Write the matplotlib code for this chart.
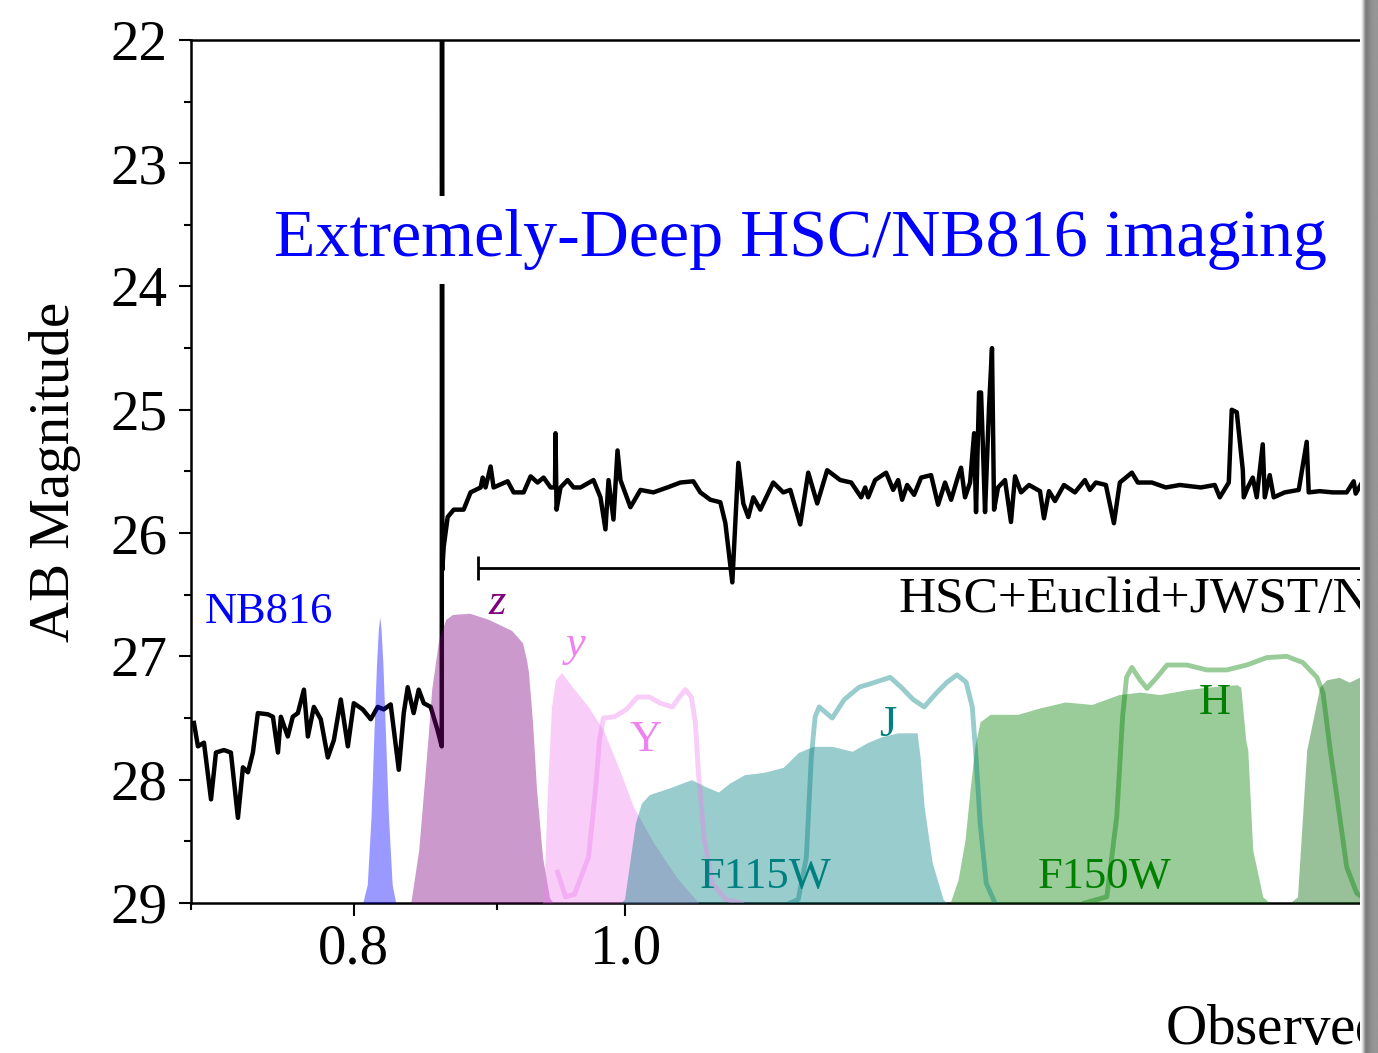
import numpy as np
import matplotlib.pyplot as plt
from matplotlib.ticker import FixedLocator, FormatStrFormatter, MultipleLocator

plt.rcParams['font.family'] = ['Liberation Serif', 'DejaVu Serif']
plt.rcParams['mathtext.fontset'] = 'stix'

# model spectrum (observed wavelength in micron, AB mag)
wave_blue = [0.7017, 0.7040, 0.7075, 0.7116, 0.7145, 0.7192, 0.7233, 0.7275, 0.7305, 0.7335,
             0.7365, 0.7395, 0.7456, 0.7487, 0.7518, 0.7536, 0.7579, 0.7610, 0.7642, 0.7680,
             0.7705, 0.7743, 0.7787, 0.7832, 0.7871, 0.7916, 0.7962, 0.8001, 0.8060, 0.8113,
             0.8160, 0.8200, 0.8247, 0.8302, 0.8336, 0.8363, 0.8404, 0.8439, 0.8474, 0.8522,
             0.8571, 0.8600]
mag_blue = [27.54, 27.73, 27.70, 28.16, 27.78, 27.76, 27.78, 28.31, 27.90, 27.94,
            27.78, 27.46, 27.47, 27.49, 27.78, 27.49, 27.65, 27.49, 27.46, 27.27,
            27.65, 27.41, 27.51, 27.82, 27.68, 27.35, 27.73, 27.38, 27.43, 27.51,
            27.41, 27.43, 27.39, 27.92, 27.46, 27.25, 27.46, 27.27, 27.38, 27.41,
            27.60, 27.73]
# Lya line
wave_lya = [0.8602, 0.8604]
mag_lya = [21.0, 26.3]
wave_red = [0.8614, 0.8642, 0.8685, 0.8756, 0.8806, 0.8879, 0.8894, 0.8915, 0.8952, 0.8974,
            0.9078, 0.9123, 0.9198, 0.9251, 0.9304, 0.9350, 0.9404, 0.9438, 0.9442, 0.9450,
            0.9481, 0.9536, 0.9583, 0.9638, 0.9741, 0.9797, 0.9837, 0.9862, 0.9902, 0.9935,
            0.9959, 1.0041, 1.0124, 1.0232, 1.0350, 1.0461, 1.0573, 1.0634, 1.0722, 1.0810,
            1.0855, 1.0917, 1.0971, 1.1016, 1.1061, 1.1107, 1.1171, 1.1290, 1.1383, 1.1449,
            1.1543, 1.1619, 1.1705, 1.1801, 1.1928, 1.2036, 1.2135, 1.2175, 1.2205, 1.2275,
            1.2386, 1.2458, 1.2509, 1.2550, 1.2602, 1.2674, 1.2747, 1.2852, 1.2926, 1.3000,
            1.3065, 1.3140, 1.3172, 1.3215, 1.3270, 1.3314, 1.3335, 1.3368, 1.3390, 1.3412,
            1.3434, 1.3478, 1.3511, 1.3534, 1.3578, 1.3656, 1.3723, 1.3769, 1.3837, 1.3928,
            1.4054, 1.4100, 1.4158, 1.4228, 1.4333, 1.4463, 1.4582, 1.4642, 1.4714, 1.4835,
            1.4933, 1.5006, 1.5155, 1.5229, 1.5406, 1.5583, 1.5764, 1.6037, 1.6222, 1.6289,
            1.6410, 1.6450, 1.6518, 1.6600, 1.6613, 1.6668, 1.6736, 1.6791, 1.6874, 1.6902,
            1.6971, 1.7027, 1.7181, 1.7380, 1.7494, 1.7523, 1.7682, 1.7871, 1.8078, 1.8182,
            1.8212, 1.8317, 1.8377, 1.8497, 1.9000, 2.0000]
mag_red = [26.11, 25.87, 25.81, 25.81, 25.67, 25.63, 25.55, 25.63, 25.46, 25.63,
           25.58, 25.67, 25.67, 25.54, 25.59, 25.55, 25.63, 25.63, 25.19, 25.81,
           25.63, 25.57, 25.63, 25.63, 25.57, 25.71, 25.97, 25.57, 25.89, 25.33,
           25.57, 25.79, 25.65, 25.67, 25.63, 25.59, 25.58, 25.67, 25.73, 25.75,
           25.92, 26.40, 25.43, 25.76, 25.87, 25.71, 25.81, 25.59, 25.67, 25.65,
           25.93, 25.51, 25.76, 25.49, 25.57, 25.59, 25.71, 25.63, 25.71, 25.57,
           25.51, 25.65, 25.57, 25.73, 25.61, 25.69, 25.55, 25.53, 25.77, 25.59,
           25.73, 25.54, 25.47, 25.71, 25.59, 25.19, 25.83, 24.86, 24.86, 25.33,
           25.83, 24.98, 24.50, 25.81, 25.63, 25.57, 25.91, 25.54, 25.67, 25.61,
           25.66, 25.88, 25.66, 25.74, 25.61, 25.67, 25.57, 25.65, 25.59, 25.61,
           25.92, 25.59, 25.51, 25.59, 25.59, 25.63, 25.61, 25.63, 25.61, 25.71,
           25.59, 25.00, 25.02, 25.49, 25.71, 25.63, 25.55, 25.71, 25.28, 25.71,
           25.53, 25.71, 25.67, 25.65, 25.26, 25.67, 25.66, 25.67, 25.67, 25.58,
           25.68, 25.58, 25.67, 25.53, 25.66, 25.65]

# filter transmission curves, scaled onto the magnitude axis
nb816_w = [0.8060, 0.8090, 0.8115, 0.8135, 0.8152, 0.8164, 0.8173, 0.8182, 0.8194, 0.8211,
           0.8232, 0.8257, 0.8281]
nb816_m = [29.0, 28.85, 28.30, 27.60, 27.05, 26.78, 26.68, 26.78, 27.05, 27.60,
           28.30, 28.85, 29.0]
hsc_z_w = [0.8384, 0.8439, 0.8474, 0.8508, 0.8529, 0.8578, 0.8628, 0.8677, 0.8799, 0.8937,
           0.9108, 0.9190, 0.9220, 0.9235, 0.9266, 0.9296, 0.9342, 0.9396, 0.9427]
hsc_z_m = [29.0, 28.57, 28.08, 27.60, 27.27, 26.87, 26.70, 26.66, 26.65, 26.70,
           26.79, 26.89, 27.03, 27.13, 27.54, 28.08, 28.63, 28.96, 29.0]
hsc_y_w = [0.9340, 0.9350, 0.9380, 0.9411, 0.9442, 0.9489, 0.9575, 0.9701, 0.9821, 0.9943,
           1.0066, 1.0232, 1.0427, 1.0591, 1.0620]
hsc_y_m = [29.0, 28.97, 28.08, 27.41, 27.19, 27.13, 27.25, 27.41, 27.60, 27.90,
           28.22, 28.51, 28.79, 28.97, 29.0]
euc_Y_w = [0.9458, 0.9520, 0.9590, 0.9638, 0.9701, 0.9757, 0.9789, 0.9821, 0.9910, 1.0008,
           1.0099, 1.0199, 1.0291, 1.0393, 1.0453, 1.0504, 1.0556, 1.0591, 1.0617, 1.0669,
           1.0739, 1.0855, 1.1000]
euc_Y_m = [28.75, 28.95, 28.93, 28.80, 28.63, 28.08, 27.68, 27.50, 27.49, 27.43,
           27.33, 27.33, 27.38, 27.41, 27.33, 27.27, 27.33, 27.54, 27.94, 28.49,
           28.84, 28.97, 29.0]
f115w_w = [0.9960, 0.9992, 1.0041, 1.0082, 1.0132, 1.0199, 1.0359, 1.0556, 1.0687, 1.0793,
           1.0890, 1.1025, 1.1207, 1.1383, 1.1524, 1.1666, 1.1850, 1.2046, 1.2195, 1.2346,
           1.2509, 1.2705, 1.2737, 1.2779, 1.2863, 1.2979, 1.3020]
f115w_m = [29.0, 28.97, 28.63, 28.35, 28.19, 28.12, 28.07, 28.00, 28.06, 28.10,
           28.03, 27.96, 27.94, 27.90, 27.78, 27.73, 27.73, 27.77, 27.70, 27.65,
           27.62, 27.62, 27.82, 28.22, 28.67, 28.97, 29.0]
euc_J_w = [1.1449, 1.1524, 1.1601, 1.1648, 1.1685, 1.1724, 1.1850, 1.1968, 1.2115, 1.2275,
           1.2427, 1.2540, 1.2664, 1.2779, 1.2905, 1.3021, 1.3129, 1.3227, 1.3294, 1.3335,
           1.3380, 1.3447, 1.3544]
euc_J_m = [29.0, 28.97, 28.63, 27.82, 27.49, 27.41, 27.50, 27.35, 27.25, 27.21,
           27.17, 27.25, 27.35, 27.41, 27.30, 27.21, 27.15, 27.21, 27.41, 27.82,
           28.35, 28.84, 29.0]
f150w_w = [1.3054, 1.3140, 1.3215, 1.3270, 1.3324, 1.3380, 1.3491, 1.3802, 1.4042, 1.4347,
           1.4666, 1.4994, 1.5256, 1.5506, 1.5854, 1.6116, 1.6518, 1.6572, 1.6640, 1.6668,
           1.6736, 1.6874, 1.6971]
f150w_m = [29.0, 28.81, 28.49, 28.08, 27.72, 27.53, 27.47, 27.47, 27.42, 27.37,
           27.39, 27.31, 27.29, 27.31, 27.27, 27.25, 27.23, 27.25, 27.68, 27.76,
           28.57, 28.95, 29.0]
euc_H_w = [1.4582, 1.4847, 1.4968, 1.5040, 1.5089, 1.5155, 1.5256, 1.5344, 1.5470, 1.5599,
           1.5854, 1.6116, 1.6384, 1.6654, 1.6930, 1.7210, 1.7438, 1.7642, 1.7731, 1.7835,
           1.7939, 1.8078, 1.8227, 1.8427]
euc_H_m = [29.0, 28.95, 28.30, 27.49, 27.17, 27.09, 27.19, 27.26, 27.17, 27.07,
           27.07, 27.11, 27.11, 27.07, 27.01, 27.00, 27.05, 27.17, 27.30, 27.76,
           28.16, 28.71, 28.92, 29.0]
f200w_w = [1.7257, 1.7362, 1.7494, 1.7682, 1.7781, 1.7967, 1.8115, 1.8265, 1.8500, 1.9000, 2.0000]
f200w_m = [29.0, 28.95, 27.76, 27.25, 27.19, 27.17, 27.21, 27.17, 27.17, 27.15, 27.10]

fig = plt.figure(figsize=(13.78, 10.53), dpi=100)
ax = fig.add_axes([0.1386, 0.1425, 0.928, 0.8196])

ax.plot(wave_blue + wave_lya + wave_red, mag_blue + mag_lya + mag_red,
        color='k', lw=3.2, zorder=2)

# bands: filled ones, then the Euclid outlines
ax.fill_between(nb816_w, nb816_m, 29, color='blue', alpha=0.4, lw=0, zorder=3)
ax.fill_between(hsc_z_w, hsc_z_m, 29, color='purple', alpha=0.4, lw=0, zorder=3)
ax.fill_between(hsc_y_w, hsc_y_m, 29, color='violet', alpha=0.4, lw=0, zorder=3)
ax.fill_between(f115w_w, f115w_m, 29, color='teal', alpha=0.4, lw=0, zorder=3)
ax.fill_between(f150w_w, f150w_m, 29, color='green', alpha=0.4, lw=0, zorder=3)
ax.fill_between(f200w_w, f200w_m, 29, color='darkgreen', alpha=0.4, lw=0, zorder=3)
ax.plot(euc_Y_w, euc_Y_m, color='violet', alpha=0.4, lw=3.5, zorder=3)
ax.plot(euc_J_w, euc_J_m, color='teal', alpha=0.4, lw=3.5, zorder=3)
ax.plot(euc_H_w, euc_H_m, color='green', alpha=0.4, lw=3.5, zorder=3)

lab_fs = 32
ax.text(0.7462, 26.64, 'NB816', color='blue', fontsize=lab_fs, ha='center', va='center')
ax.text(0.9004, 26.57, 'z', color='purple', fontsize=lab_fs, style='italic', ha='center', va='center')
ax.text(0.9598, 26.91, 'y', color='violet', fontsize=lab_fs, style='italic', ha='center', va='center')
ax.text(1.0165, 27.68, 'Y', color='violet', fontsize=lab_fs, ha='center', va='center')
ax.text(1.1217, 28.79, 'F115W', color='teal', fontsize=lab_fs, ha='center', va='center')
ax.text(1.2407, 27.56, 'J', color='teal', fontsize=lab_fs, ha='center', va='center')
ax.text(1.4823, 28.79, 'F150W', color='green', fontsize=lab_fs, ha='center', va='center')
ax.text(1.6222, 27.38, 'H', color='green', fontsize=lab_fs, ha='center', va='center')

# wavelength coverage of the broad-band data
ax.errorbar(2.5, 26.28, xerr=[[2.5 - 0.886], [2.5]], fmt='none', ecolor='k',
            elinewidth=2, capsize=8.5, capthick=2, zorder=4)
ax.text(1.2509, 26.54, 'HSC+Euclid+JWST/NIRCam', color='k', fontsize=37,
        ha='left', va='center')

ax.text(1.1543, 23.62, 'Extremely-Deep HSC/NB816 imaging', color='blue', fontsize=49,
        ha='center', va='center', zorder=5,
        bbox=dict(facecolor='white', edgecolor='none', pad=10))

ax.set_xscale('log')
ax.set_xlim(0.7, 2.0)
ax.set_ylim(29, 22)
ax.xaxis.set_major_locator(FixedLocator([0.8, 1.0]))
ax.xaxis.set_minor_locator(FixedLocator([0.7, 0.9]))
ax.xaxis.set_major_formatter(FormatStrFormatter('%.1f'))
ax.xaxis.set_minor_formatter(plt.NullFormatter())
ax.yaxis.set_major_locator(MultipleLocator(1))
ax.yaxis.set_minor_locator(MultipleLocator(0.5))
ax.tick_params(which='both', direction='out', width=1.5, labelsize=41)
ax.tick_params(which='major', length=9)
ax.tick_params(which='minor', length=5)
ax.tick_params(axis='y', pad=8)
ax.tick_params(axis='x', pad=6)
for s in ax.spines.values():
    s.set_linewidth(1.8)

ax.set_ylabel('AB Magnitude', fontsize=41, va='center')
ax.yaxis.set_label_coords(-0.1063, 0.5)
ax.set_xlabel(r'Observed Wavelength [$\mu$m]', fontsize=41, ha='left', va='center')
ax.xaxis.set_label_coords(0.7615, -0.147)

# page edge shadow
shade = fig.add_axes([1360 / 1378, 0, 18 / 1378, 1])
edge = np.array([255, 245, 225, 195, 160, 135, 125, 125, 130, 135,
                 140, 143, 146, 148, 150, 150, 150, 150]) / 255.0
shade.imshow(np.tile(edge, (2, 1)), cmap='gray', vmin=0, vmax=1, aspect='auto',
             interpolation='bilinear')
shade.set_axis_off()

fig.savefig('out.png', dpi=100)
